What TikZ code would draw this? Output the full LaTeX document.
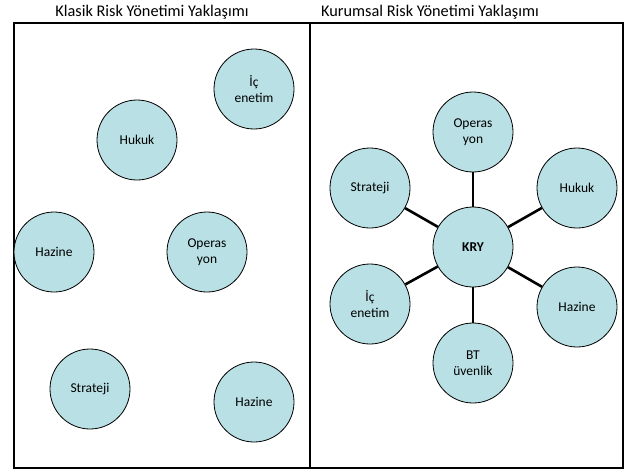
\documentclass[tikz,border=0pt]{standalone}
\usepackage{fontspec}
\setmainfont{Carlito}
\usepackage{xcolor}
\usepackage{tikz}
\usetikzlibrary{shapes.geometric}
\definecolor{unitfill}{RGB}{185,224,228}
\tikzstyle{unit} = [circle, minimum size=80pt, inner sep=0pt, draw=black, line width=0.8pt,
                    fill=unitfill, text width=60pt, align=center, font=\fontsize{13.5}{16}\selectfont]
\tikzstyle{panel} = [draw=black, line width=2pt]
\tikzstyle{spoke} = [line width=2.6pt]
\tikzstyle{heading} = [font=\fontsize{16.3}{18}\selectfont]

\begin{document}
\begin{tikzpicture}[x=1pt, y=-1pt]
  \useasboundingbox (0,0) rectangle (627,471);
  \fill[white] (0,0) rectangle (627,471);

  % the two panels
  \draw [panel] (14,23) rectangle (310,468);
  \draw [panel] (310,23) rectangle (623,468);
  \node (klasik) [heading] at (152,12) {Klasik Risk Yönetimi Yaklaşımı};
  \node (kurumsal) [heading] at (430,12) {Kurumsal Risk Yönetimi Yaklaşımı};

  % classic approach: separate units
  \node (ic1) [unit] at (254,89) {İç\\enetim};
  \node (hukuk1) [unit] at (137,140) {Hukuk};
  \node (hazine1) [unit] at (54,252) {Hazine};
  \node (operas1) [unit] at (207,252) {Operas\\yon};
  \node (strateji1) [unit] at (90,389) {Strateji};
  \node (hazine2) [unit] at (254,402) {Hazine};

  % enterprise approach: units around KRY
  \node (kry) [unit, font=\fontsize{13.5}{16}\selectfont\bfseries] at (473,247) {KRY};
  \node (operas2) [unit] at (473,132) {Operas\\yon};
  \node (strateji2) [unit] at (370,188) {Strateji};
  \node (hukuk2) [unit] at (577,188) {Hukuk};
  \node (ic2) [unit] at (370,304) {İç\\enetim};
  \node (hazine3) [unit] at (577,307) {Hazine};
  \node (bt) [unit] at (473,363) {BT\\üvenlik};

  \draw [spoke] (kry) -- (operas2);
  \draw [spoke] (kry) -- (strateji2);
  \draw [spoke] (kry) -- (hukuk2);
  \draw [spoke] (kry) -- (ic2);
  \draw [spoke] (kry) -- (hazine3);
  \draw [spoke] (kry) -- (bt);
\end{tikzpicture}
\end{document}
